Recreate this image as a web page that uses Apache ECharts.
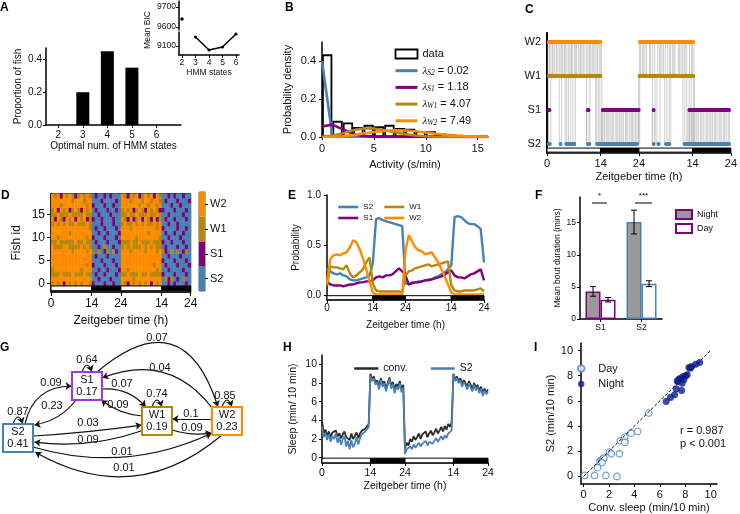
<!DOCTYPE html>
<html>
<head>
<meta charset="utf-8">
<script src="https://cdn.jsdelivr.net/npm/echarts@6/dist/echarts.min.js"></script>
<style>
  html, body { margin: 0; padding: 0; background: #fff; }
  #main { width: 740px; height: 514px; }
</style>
</head>
<body>
<div id="main"></div>
<script>
// ---- shared ----
var stateNames = ['S2', 'S1', 'W1', 'W2'];
var stateColors = ['#4682b4', '#800080', '#b8860b', '#ff8c00'];
var ztTicks = [0, 14, 24, 38, 48];
var lightDark = [[0, 14, 0], [14, 24, 1], [24, 38, 0], [38, 48, 1]];

// ---- A ----
var aStates = [2, 3, 4, 5, 6];
var aProportion = [0, 0.2, 0.45, 0.35, 0];
var aBicStates = [2, 3, 4, 5, 6];
var aMeanBic = [9640, 9160, 9073, 9093, 9180];

// ---- B ----
var bBinCentres = [0.5, 1.5, 2.5, 3.5, 4.5, 5.5, 6.5, 7.5, 8.5, 9.5, 10.5, 11.5, 12.5, 13.5, 14.5, 15.5];
var bDensity = [0.435, 0.085, 0.076, 0.053, 0.064, 0.056, 0.064, 0.048, 0.044, 0.031, 0.03, 0.018, 0.013, 0.008, 0.005, 0.003];
var bActivity = [0, 1, 2, 3, 4, 5, 6, 7, 8, 9, 10, 11, 12, 13, 14, 15, 16];
var bS2 = [0.40, 0.005, 0, 0, 0, 0, 0, 0, 0, 0, 0, 0, 0, 0, 0, 0, 0];
var bS1 = [0.055, 0.065, 0.04, 0.016, 0.005, 0.001, 0, 0, 0, 0, 0, 0, 0, 0, 0, 0, 0];
var bW1 = [0.001, 0.007, 0.02, 0.036, 0.045, 0.045, 0.036, 0.025, 0.015, 0.008, 0.004, 0.001, 0, 0, 0, 0, 0];
var bW2 = [0, 0.001, 0.004, 0.01, 0.018, 0.026, 0.032, 0.035, 0.034, 0.03, 0.024, 0.017, 0.011, 0.007, 0.004, 0.002, 0.001];
var bLambda = ['0.02', '1.18', '4.07', '7.49'];

// ---- C: one fish, state occupancy intervals (h) and switch times ----
var cS2 = [[0, 1.2], [3.1, 4.0], [4.6, 7.6], [10.2, 11.5], [12.6, 24], [27.4, 28.3], [28.6, 29.6], [30.6, 32.4], [35.4, 48]];
var cS1 = [[0, 1.1], [10.2, 11.3], [14.1, 24.4], [27.4, 28.3], [36.7, 48]];
var cW1 = [[0, 14.4], [23.7, 38.6]];
var cW2 = [[0, 14.4], [23.8, 38.6]];
var cSwitchWW = [0.2, 0.6, 0.8, 1.3, 1.5, 1.9, 2.4, 2.6, 3.1, 3.4, 3.8, 4.1, 4.5, 4.7, 5.0, 5.5, 5.8, 6.2, 6.4, 6.7, 7.2, 7.5, 7.7, 8.2, 8.6, 8.8, 9.1, 9.5, 9.9, 10.4, 10.7, 11.1, 11.4, 11.8, 12.1, 12.5, 12.8, 13.2, 13.6, 13.9, 14.2,
  24.1, 24.4, 24.9, 25.2, 25.6, 26.0, 26.8, 27.0, 27.6, 28.1, 28.9, 29.3, 29.6, 30.0, 30.4, 30.9, 31.5, 32.0, 32.3, 32.8, 33.1, 33.4, 34.3, 34.6, 35.0, 35.4, 35.8, 36.1, 36.5, 37.2, 37.7, 38.0, 38.4];
var cSwitchWS = [0.3, 1.0, 3.2, 3.8, 4.7, 5.1, 5.6, 6.2, 6.8, 7.4, 10.3, 11.2, 12.7, 13.0, 13.4, 13.8, 14.3,
  23.9, 24.2, 27.5, 28.2, 28.7, 29.5, 30.7, 31.3, 31.9, 32.3, 35.5, 36.0, 36.5, 37.1, 37.6, 38.2, 38.5];
var cSwitchSS = [0.4, 10.4, 11.0, 14.2, 14.5, 14.9, 15.1, 15.6, 15.9, 16.2, 16.7, 17.0, 17.3, 17.8, 18.2, 18.5, 18.9, 19.3, 19.6, 20.0, 20.5, 20.8, 21.1, 21.6, 22.0, 22.3, 22.7, 23.1, 23.5, 23.9,
  27.5, 28.1, 36.8, 37.2, 37.7, 38.0, 38.4, 38.9, 39.2, 39.6, 40.1, 40.4, 40.8, 41.3, 41.7, 42.0, 42.5, 42.8, 43.2, 43.7, 44.0, 44.4, 44.9, 45.2, 45.6, 46.1, 46.4, 46.8, 47.3, 47.6];

// ---- D: hourly state per fish (0=S2 1=S1 2=W1 3=W2), fish 0 first ----
var dFishStates = [
  '23231323232332|1000100100|32132323231323|0010100010',
  '33333333333333|0010001000|33332333333333|0212010200',
  '22232223222322|0100100010|22322232232222|1000100010',
  '23333333332333|0010010001|33233333333323|0010000100',
  '33333333333323|1000100010|33333333333233|0100010001',
  '33333333333333|0001000100|33333333333333|1000100010',
  '33333333333333|0100010000|33333333333333|0010001000',
  '33333332333323|2020120210|33323333233323|2102020120',
  '32223322223232|0010200100|23232223232322|0100010010',
  '22322222322322|0100010001|22232232223222|1001000100',
  '33233333333323|1000100010|33333233333332|0010001000',
  '33333323333333|0010010001|33333333323333|0100100100',
  '33333333333332|0100100010|33323333333323|1000010010',
  '23232322322232|0001000100|23223232322323|0010010000',
  '31321323132312|1001000100|32131231321312|0100100010',
  '22322232222322|0010001000|22322322232232|0010000100',
  '23132312321323|0100010010|23231232132321|1000100010',
  '33323333333323|1000100100|33333323323323|0001001000',
  '33333332333233|0001000010|33323332332332|0100010001',
  '32313232123232|0100101000|32132312323132|0010100100'
];

// ---- E: hourly state probabilities, ZT 0..48 ----
var eS2 = [0.27, 0.24, 0.22, 0.21, 0.22, 0.20, 0.19, 0.16, 0.15, 0.15, 0.16, 0.17, 0.18, 0.20,
  0.32, 0.76, 0.77, 0.75, 0.74, 0.73, 0.72, 0.71, 0.70, 0.69,
  0.12, 0.11, 0.13, 0.13, 0.14, 0.14, 0.15, 0.16, 0.16, 0.18, 0.19, 0.21, 0.23, 0.26,
  0.30, 0.78, 0.79, 0.78, 0.75, 0.72, 0.71, 0.71, 0.69, 0.66, 0.33];
var eS1 = [0.14, 0.11, 0.10, 0.10, 0.10, 0.09, 0.10, 0.11, 0.11, 0.12, 0.13, 0.13, 0.14, 0.14,
  0.15, 0.18, 0.19, 0.18, 0.20, 0.20, 0.21, 0.24, 0.27, 0.24,
  0.20, 0.11, 0.12, 0.13, 0.13, 0.14, 0.15, 0.15, 0.16, 0.17, 0.18, 0.19, 0.21, 0.23,
  0.25, 0.20, 0.18, 0.18, 0.17, 0.19, 0.21, 0.22, 0.24, 0.26, 0.15];
var eW1 = [0.10, 0.29, 0.28, 0.28, 0.27, 0.26, 0.30, 0.22, 0.18, 0.20, 0.23, 0.26, 0.33, 0.38,
  0.12, 0.05, 0.04, 0.04, 0.04, 0.04, 0.04, 0.04, 0.04, 0.03,
  0.20, 0.24, 0.25, 0.27, 0.28, 0.29, 0.30, 0.31, 0.29, 0.30, 0.31, 0.32, 0.33, 0.34,
  0.10, 0.05, 0.04, 0.04, 0.05, 0.05, 0.05, 0.05, 0.06, 0.07, 0.04];
var eW2 = [0.12, 0.36, 0.40, 0.41, 0.40, 0.42, 0.43, 0.48, 0.55, 0.53, 0.46, 0.37, 0.26, 0.14,
  0.03, 0.01, 0.01, 0.01, 0.01, 0.01, 0.01, 0.01, 0.01, 0.01,
  0.45, 0.60, 0.54, 0.48, 0.45, 0.44, 0.41, 0.42, 0.43, 0.38, 0.33, 0.26, 0.19, 0.11,
  0.03, 0.01, 0.01, 0.01, 0.01, 0.01, 0.01, 0.01, 0.01, 0.01, 0.01];

// ---- F ----
var fCats = ['S1', 'S2'];
var fNight = [4.3, 15.1];
var fNightErr = [0.75, 1.85];
var fDay = [3.0, 5.5];
var fDayErr = [0.35, 0.45];

// ---- G: transition probabilities ----
var gStates = ['S2', 'S1', 'W1', 'W2'];
var gOccupancy = [0.41, 0.17, 0.19, 0.23];
var gFrom = ['S2', 'S1', 'W1', 'W2', 'S2', 'S1', 'S1', 'W1', 'S1', 'W2', 'W2', 'W1', 'S2', 'W1', 'S2', 'W2'];
var gTo   = ['S2', 'S1', 'W1', 'W2', 'S1', 'S2', 'W1', 'S1', 'W2', 'S1', 'W1', 'W2', 'W1', 'S2', 'W2', 'S2'];
var gProb = ['0.87', '0.64', '0.74', '0.85', '0.09', '0.23', '0.07', '0.09', '0.07', '0.04', '0.1', '0.09', '0.03', '0.09', '0.01', '0.01'];

// ---- H: sleep per 10 min, ZT 0..48 every 0.5 h ----
var hConv = [4.0, 2.6, 3.0, 2.4, 2.8, 2.2, 2.7, 2.5, 2.9, 2.3, 2.6, 2.1, 2.5, 2.8, 2.2, 2.4, 1.9, 2.6, 2.0, 2.3, 2.7, 2.1, 2.6, 2.9, 2.7, 3.1, 3.3, 3.6,
  9.0, 8.4, 8.7, 8.0, 8.3, 7.6, 8.5, 7.9, 8.2, 7.4, 8.0, 8.6, 7.7, 8.1, 7.3, 7.9, 7.6, 8.2, 7.3, 7.8,
  1.0, 1.6, 1.3, 2.0, 1.7, 2.3, 1.9, 2.2, 2.6, 2.0, 2.5, 2.3, 2.8, 2.2, 2.6, 2.9, 2.4, 2.7, 3.1, 2.6, 2.9, 3.3, 2.8, 3.4, 3.0, 3.6, 3.3, 3.8,
  9.0, 8.4, 8.7, 8.2, 8.5, 7.9, 8.3, 8.0, 7.6, 8.2, 7.8, 7.4, 8.0, 7.5, 7.8, 7.2, 7.6, 6.9, 7.4, 7.0, 7.3];
var hS2 = [3.3, 2.2, 2.6, 1.9, 2.5, 1.7, 2.3, 2.0, 2.6, 1.6, 2.2, 1.4, 2.0, 2.3, 1.2, 1.8, 0.9, 1.9, 1.1, 1.5, 2.2, 1.4, 2.1, 2.5, 2.3, 2.8, 3.0, 3.3,
  8.8, 8.2, 8.5, 7.8, 8.1, 7.3, 8.3, 7.6, 8.0, 7.1, 7.8, 8.4, 7.4, 7.9, 6.9, 7.6, 7.3, 8.0, 7.0, 7.5,
  0.4, 0.9, 0.7, 1.2, 0.9, 1.4, 1.1, 1.3, 1.6, 1.2, 1.5, 1.4, 1.8, 1.3, 1.7, 1.9, 1.5, 1.8, 2.1, 1.7, 2.0, 2.3, 1.9, 2.4, 2.1, 2.6, 2.4, 2.9,
  8.9, 8.2, 8.5, 8.0, 8.3, 7.6, 8.1, 7.8, 7.3, 8.0, 7.5, 7.1, 7.8, 7.2, 7.6, 6.9, 7.4, 6.6, 7.2, 6.8, 7.1];

// ---- I: conv. sleep vs S2 ----
var iDay = [[0.08, 0.08], [0.87, 0.08], [1.76, 0.08], [2.63, 0], [1.1, 0.7], [1.3, 1.2], [1.4, 1.27], [1.53, 1.4], [1.6, 1.46], [1.45, 1.1],
  [2.03, 1.93], [2.18, 1.8], [2.82, 1.8], [2.9, 2.83], [3.24, 2.83], [3.24, 3.12], [3.24, 2.7], [3.74, 3.44], [4.26, 3.57], [5.13, 5.03]];
var iNight = [[6.5, 5.95], [6.84, 6.27], [7.16, 6.48], [7.29, 6.96], [7.37, 7.59], [7.45, 7.55], [7.5, 7.72], [7.63, 7.8], [7.71, 6.83], [7.76, 7.41],
  [7.84, 7.94], [7.9, 7.7], [8.03, 7.99], [8.16, 8.07], [8.29, 8.65], [8.4, 8.6], [8.5, 8.73], [8.82, 8.92], [9.13, 9.05]];

// ---------------------------------------------------------------
function clean(o) {
  for (var k in o) {
    if (o[k] === undefined) delete o[k];
    else if (o[k] && typeof o[k] === 'object' && !Array.isArray(o[k])) clean(o[k]);
  }
  return o;
}
function ztLabel(v) { return String(v > 24 ? v - 24 : v); }
function fix1(v) { return v.toFixed(1); }
function plain(v) { return String(v); }

function mkAxis(gi, min, max, o) {
  o = o || {};
  return clean({
    type: o.type || 'value', gridIndex: gi, min: min, max: max,
    show: o.show, position: o.position, data: o.data,
    name: o.name, nameLocation: 'middle', nameGap: o.nameGap,
    nameTextStyle: { fontSize: o.nameSize || o.fontSize || 10, color: '#111' },
    splitLine: { show: false },
    axisLine: { show: o.line !== false, onZero: false, lineStyle: { color: '#000', width: o.lw || 1.5 } },
    axisTick: { show: o.tick !== false, length: o.tickLen || 3, alignWithLabel: o.type === 'category' ? true : undefined,
      customValues: o.ticks, lineStyle: { color: '#000', width: 1 } },
    axisLabel: { fontSize: o.fontSize || 10, color: '#111', margin: o.margin || 5, customValues: o.ticks, formatter: o.fmt }
  });
}

function dayNight(gi, y0, y1) {
  return {
    type: 'custom', xAxisIndex: gi, yAxisIndex: gi, silent: true, z: 4,
    data: lightDark,
    renderItem: function (params, api) {
      var a = api.coord([api.value(0), y0]);
      var b = api.coord([api.value(1), y1]);
      return { type: 'rect',
        shape: { x: a[0], y: Math.min(a[1], b[1]), width: b[0] - a[0], height: Math.abs(b[1] - a[1]) },
        style: { fill: api.value(2) ? '#000' : '#fff', stroke: '#000', lineWidth: 1 } };
    }
  };
}

function pairs(xs, ys) { return xs.map(function (x, i) { return [x, ys[i]]; }); }

var eTime = [];
for (var k = 0; k <= 48; k++) eTime.push(k);
var hTime = [];
for (var k2 = 0; k2 <= 96; k2++) hTime.push(k2 / 2);

// C data rows
var cTransitions = cSwitchWW.map(function (t) { return [t, 2, 3]; })
  .concat(cSwitchWS.map(function (t) { return [t, 0, 2]; }))
  .concat(cSwitchSS.map(function (t) { return [t, 0, 1]; }));
var cIntervals = [];
[cS2, cS1, cW1, cW2].forEach(function (list, s) {
  list.forEach(function (iv) { cIntervals.push([iv[0], iv[1], s]); });
});

// D data rows
var dCells = [];
dFishStates.forEach(function (row, fish) {
  var r = row.replace(/\|/g, '');
  for (var h = 0; h < r.length; h++) dCells.push([h, fish, +r[h]]);
});

// A inset split (broken axis)
var aBicTop = [], aBicBottom = [];
aBicStates.forEach(function (s, i) {
  if (aMeanBic[i] > 9400) aBicTop.push([s, aMeanBic[i]]); else aBicBottom.push([s, aMeanBic[i]]);
});

// ---- G layout (pixel space) ----
var gBoxXY = { S2: [18, 438], S1: [87, 386], W1: [157, 421], W2: [227, 421] };
var gBoxColor = { S2: '#4682b4', S1: '#a335e8', W1: '#b8860b', W2: '#ff8c00' };
// [x1, y1, x2, y2, curveness, labelX, labelY]
var gEdgeGeom = [
  [13, 424, 23, 424, 1.4, 18, 412],
  [82, 372, 92, 372, 1.4, 87, 360],
  [152, 407, 162, 407, 1.4, 157, 394],
  [222, 407, 232, 407, 1.4, 225, 396],
  [25, 424, 72, 386, 0.4, 51, 383],
  [76, 400, 34, 425, 0.2, 52, 406],
  [102, 389, 146, 407, 0.25, 122, 384],
  [142, 416, 101, 400, 0.15, 118, 405],
  [97, 372, 218, 407, 0.75, 157, 338],
  [213, 409, 102, 378, -0.38, 160, 368],
  [212, 419, 172, 419, 0, 191, 414],
  [172, 430, 212, 433, -0.12, 192, 428],
  [33, 436, 142, 425, -0.02, 88, 423],
  [141, 431, 34, 442, 0.12, 88, 440],
  [33, 447, 212, 433, -0.19, 122, 452],
  [222, 435, 35, 452, 0.35, 124, 468]
];
var gNodes = [], gLinks = [];
gStates.forEach(function (s, i) {
  gNodes.push({ name: s, x: gBoxXY[s][0], y: gBoxXY[s][1], symbol: 'rect', symbolSize: [30, 28],
    itemStyle: { color: '#fff', borderColor: gBoxColor[s], borderWidth: 2 },
    label: { show: true, position: 'inside', formatter: s + '\n' + gOccupancy[i].toFixed(2), fontSize: 11, lineHeight: 12, color: '#111' } });
});
gProb.forEach(function (p, e) {
  var g = gEdgeGeom[e];
  var hidden = { color: 'rgba(0,0,0,0)', borderWidth: 0 };
  gNodes.push({ name: 'e' + e + 's', x: g[0], y: g[1], symbolSize: 1, itemStyle: hidden, label: { show: false } });
  gNodes.push({ name: 'e' + e + 't', x: g[2], y: g[3], symbolSize: 1, itemStyle: hidden, label: { show: false } });
  gNodes.push({ name: 'l' + e, x: g[5], y: g[6], symbolSize: 1, itemStyle: hidden,
    label: { show: true, position: 'inside', formatter: p, fontSize: 11, color: '#111' } });
  gLinks.push({ source: 'e' + e + 's', target: 'e' + e + 't', lineStyle: { curveness: g[4] } });
});
var gx = gNodes.map(function (n) { return n.x; }), gy = gNodes.map(function (n) { return n.y; });
var gMinX = Math.min.apply(null, gx), gMaxX = Math.max.apply(null, gx);
var gMinY = Math.min.apply(null, gy), gMaxY = Math.max.apply(null, gy);

// ---------------------------------------------------------------
var chart = echarts.init(document.getElementById('main'));

var noSymbol = { color: 'rgba(0,0,0,0)', opacity: 0, borderWidth: 0 };

var option = {
  animation: false,
  backgroundColor: '#fff',
  textStyle: { fontFamily: 'Liberation Sans' },
  grid: [
    { left: 46, top: 48, width: 135, height: 77 },
    { left: 179, top: 1, width: 60, height: 29 },
    { left: 179, top: 32, width: 60, height: 23 },
    { left: 322, top: 42, width: 166, height: 95 },
    { left: 547, top: 33, width: 186, height: 120 },
    { left: 51, top: 193.6, width: 139.7, height: 98.4, show: true, borderColor: '#222', borderWidth: 1, backgroundColor: 'rgba(0,0,0,0)' },
    { left: 199, top: 192, width: 6, height: 99, show: true, borderColor: '#333', borderWidth: 0.8, backgroundColor: 'rgba(0,0,0,0)' },
    { left: 327, top: 195, width: 157, height: 105 },
    { left: 580, top: 197, width: 82, height: 122 },
    { left: 322, top: 355, width: 166, height: 108 },
    { left: 581, top: 343, width: 136, height: 141 }
  ],
  xAxis: [
    mkAxis(0, 1.5, 7, { ticks: [2, 3, 4, 5, 6], name: 'Optimal num. of HMM states', nameGap: 16, margin: 5 }),
    mkAxis(1, 1.78, 6.22, { show: false }),
    mkAxis(2, 1.78, 6.22, { ticks: [2, 3, 4, 5, 6], name: 'HMM states', nameGap: 11, fontSize: 8.5, margin: 3 }),
    mkAxis(3, 0, 16, { ticks: [0, 5, 10, 15], name: 'Activity (s/min)', nameGap: 22, fontSize: 11, margin: 6 }),
    mkAxis(4, 0, 48, { ticks: ztTicks, fmt: ztLabel, name: 'Zeitgeber time (h)', nameGap: 18, fontSize: 11, margin: 5 }),
    mkAxis(5, 0, 48, { ticks: ztTicks, fmt: ztLabel, name: 'Zeitgeber time (h)', nameGap: 23, fontSize: 12, margin: 6, tickLen: 4 }),
    mkAxis(6, 0, 1, { show: false }),
    mkAxis(7, 0, 48, { ticks: ztTicks, fmt: ztLabel, name: 'Zeitgeber time (h)', nameGap: 20, fontSize: 10, margin: 3 }),
    mkAxis(8, null, null, { type: 'category', data: fCats, fontSize: 8.5, margin: 4 }),
    mkAxis(9, 0, 48, { ticks: ztTicks, fmt: ztLabel, name: 'Zeitgeber time (h)', nameGap: 18, fontSize: 10.5, margin: 5 }),
    mkAxis(10, -0.2, 10.5, { ticks: [0, 2, 4, 6, 8, 10], name: 'Conv. sleep (min/10 min)', nameGap: 18, fontSize: 11, margin: 5 })
  ],
  yAxis: [
    mkAxis(0, 0, 0.47, { ticks: [0, 0.2, 0.4], fmt: fix1, name: 'Proportion of fish', nameGap: 23, margin: 4 }),
    mkAxis(1, 9585, 9730, { ticks: [9600, 9700], fmt: plain, fontSize: 8.5, margin: 3 }),
    mkAxis(2, 9040, 9193, { ticks: [9100], fmt: plain, fontSize: 8.5, margin: 3 }),
    mkAxis(3, 0, 0.5, { ticks: [0, 0.2, 0.4], fmt: fix1, name: 'Probability density', nameGap: 29, fontSize: 11, margin: 6 }),
    mkAxis(4, -0.265, 3.265, { ticks: [0, 1, 2, 3], fmt: function (v) { return stateNames[v]; }, fontSize: 11, margin: 6, tick: false, lw: 2 }),
    mkAxis(5, -1.9, 19.5, { ticks: [0, 5, 10, 15], name: 'Fish id', nameGap: 28, fontSize: 12, margin: 6, tickLen: 4 }),
    mkAxis(6, null, null, { type: 'category', data: stateNames, position: 'right', fontSize: 11, margin: 5, line: false }),
    mkAxis(7, -0.045, 1.0, { ticks: [0, 0.5, 1], fmt: fix1, name: 'Probability', nameGap: 26, fontSize: 10, margin: 6 }),
    mkAxis(8, 0, 19, { ticks: [0, 5, 10, 15], name: 'Mean bout duration (mins)', nameGap: 17, fontSize: 8.5, margin: 4 }),
    mkAxis(9, -0.57, 11, { ticks: [0, 2, 4, 6, 8, 10], name: 'Sleep (min/ 10 min)', nameGap: 23, fontSize: 10.5, margin: 5 }),
    mkAxis(10, -0.6, 10.6, { ticks: [0, 2, 4, 6, 8, 10], name: 'S2 (min/10 min)', nameGap: 25, fontSize: 11, margin: 8 })
  ],
  legend: [
    { // B
      data: [{ name: 'data', icon: 'rect', itemStyle: { color: '#fff', opacity: 1, borderColor: '#000', borderWidth: 1.8 } }, 'bS2', 'bS1', 'bW1', 'bW2'],
      left: 389, top: 43, orient: 'vertical', itemWidth: 22, itemHeight: 9, itemGap: 4.7, selectedMode: false,
      itemStyle: noSymbol, lineStyle: { width: 3 },
      textStyle: { fontSize: 11, color: '#111', lineHeight: 12,
        rich: { l: { fontSize: 11, fontStyle: 'italic', fontFamily: 'Liberation Serif', lineHeight: 12, verticalAlign: 'middle' },
                s: { fontSize: 7.5, fontStyle: 'italic', fontFamily: 'Liberation Serif', lineHeight: 12, verticalAlign: 'bottom' },
                t: { fontSize: 11, lineHeight: 12, verticalAlign: 'middle' } } },
      formatter: function (n) {
        var idx = ['bS2', 'bS1', 'bW1', 'bW2'].indexOf(n);
        if (idx < 0) return n;
        return '{l|λ}{s|' + stateNames[idx] + '}{t| = ' + bLambda[idx] + '}';
      }
    },
    { data: ['S2', 'S1'], left: 332, top: 198, orient: 'vertical', itemWidth: 20, itemHeight: 8, itemGap: 3, selectedMode: false,
      itemStyle: noSymbol, lineStyle: { width: 2.6 }, textStyle: { fontSize: 8, color: '#111' } },
    { data: ['W1', 'W2'], left: 378, top: 198, orient: 'vertical', itemWidth: 20, itemHeight: 8, itemGap: 3, selectedMode: false,
      itemStyle: noSymbol, lineStyle: { width: 2.6 }, textStyle: { fontSize: 8, color: '#111' } },
    { data: [{ name: 'Night', icon: 'rect' }, { name: 'Day', icon: 'rect' }], left: 670, top: 204, orient: 'vertical',
      itemWidth: 16, itemHeight: 9, itemGap: 3, selectedMode: false, textStyle: { fontSize: 9, color: '#111' } },
    { data: ['hConv', 'hS2'], left: 348, top: 358, orient: 'horizontal', itemWidth: 24, itemHeight: 8, itemGap: 22, selectedMode: false,
      itemStyle: noSymbol, lineStyle: { width: 2.5 }, textStyle: { fontSize: 10.5, color: '#111' },
      formatter: function (n) { return n === 'hConv' ? 'conv.' : 'S2'; } },
    { data: [{ name: 'iDay', icon: 'circle' }, { name: 'iNight', icon: 'circle' }], left: 572, top: 358, orient: 'vertical',
      itemWidth: 24, itemHeight: 6.5, itemGap: 4.5, selectedMode: false, textStyle: { fontSize: 11, color: '#111' },
      formatter: function (n) { return n === 'iDay' ? 'Day' : 'Night'; } }
  ],
  series: [
    // A
    { type: 'bar', xAxisIndex: 0, yAxisIndex: 0, barWidth: 13, itemStyle: { color: '#000' }, data: pairs(aStates, aProportion) },
    { type: 'line', xAxisIndex: 1, yAxisIndex: 1, data: aBicTop, symbol: 'circle', symbolSize: 3.5, itemStyle: { color: '#000' }, lineStyle: { color: '#000' } },
    { type: 'line', xAxisIndex: 2, yAxisIndex: 2, data: aBicBottom, symbol: 'circle', symbolSize: 3, itemStyle: { color: '#000' }, lineStyle: { color: '#000', width: 1.5 } },
    // B
    { type: 'bar', name: 'data', xAxisIndex: 3, yAxisIndex: 3, barWidth: 10.3,
      itemStyle: { color: 'rgba(0,0,0,0)', borderColor: '#000', borderWidth: 1.8 }, data: pairs(bBinCentres, bDensity) },
    { type: 'line', name: 'bS2', xAxisIndex: 3, yAxisIndex: 3, symbol: 'none', color: stateColors[0], lineStyle: { width: 2.6 }, data: pairs(bActivity, bS2) },
    { type: 'line', name: 'bS1', xAxisIndex: 3, yAxisIndex: 3, symbol: 'none', color: stateColors[1], lineStyle: { width: 2.6 }, data: pairs(bActivity, bS1) },
    { type: 'line', name: 'bW1', xAxisIndex: 3, yAxisIndex: 3, symbol: 'none', color: stateColors[2], lineStyle: { width: 2.6 }, data: pairs(bActivity, bW1) },
    { type: 'line', name: 'bW2', xAxisIndex: 3, yAxisIndex: 3, symbol: 'none', color: stateColors[3], lineStyle: { width: 2.6 }, data: pairs(bActivity, bW2) },
    // C
    { type: 'custom', xAxisIndex: 4, yAxisIndex: 4, silent: true, data: cTransitions,
      renderItem: function (params, api) {
        var a = api.coord([api.value(0), api.value(1)]), b = api.coord([api.value(0), api.value(2)]);
        return { type: 'line', shape: { x1: a[0], y1: a[1], x2: b[0], y2: b[1] }, style: { stroke: 'rgba(160,160,160,0.5)', lineWidth: 1 } };
      } },
    { type: 'custom', xAxisIndex: 4, yAxisIndex: 4, silent: true, data: cIntervals, z: 3,
      renderItem: function (params, api) {
        var a = api.coord([api.value(0), api.value(2)]), b = api.coord([api.value(1), api.value(2)]);
        return { type: 'rect', shape: { x: a[0], y: a[1] - 2, width: b[0] - a[0], height: 4, r: 1.5 }, style: { fill: stateColors[api.value(2)] } };
      } },
    dayNight(4, -0.12, -0.24),
    // D
    { type: 'custom', xAxisIndex: 5, yAxisIndex: 5, silent: true, data: dCells,
      renderItem: function (params, api) {
        var a = api.coord([api.value(0), api.value(1) + 0.5]), b = api.coord([api.value(0) + 1, api.value(1) - 0.5]);
        return { type: 'rect', shape: { x: a[0], y: a[1], width: b[0] - a[0] + 0.4, height: b[1] - a[1] + 0.4 }, style: { fill: stateColors[api.value(2)] } };
      } },
    dayNight(5, -0.59, -1.61),
    { type: 'bar', xAxisIndex: 6, yAxisIndex: 6, barCategoryGap: '0%', silent: true,
      data: stateNames.map(function (s, i) { return { value: 1, itemStyle: { color: stateColors[i] } }; }) },
    // E
    { type: 'line', name: 'S2', xAxisIndex: 7, yAxisIndex: 7, symbol: 'none', color: stateColors[0], lineStyle: { width: 2.4 }, data: pairs(eTime, eS2) },
    { type: 'line', name: 'S1', xAxisIndex: 7, yAxisIndex: 7, symbol: 'none', color: stateColors[1], lineStyle: { width: 2.4 }, data: pairs(eTime, eS1) },
    { type: 'line', name: 'W1', xAxisIndex: 7, yAxisIndex: 7, symbol: 'none', color: stateColors[2], lineStyle: { width: 2.4 }, data: pairs(eTime, eW1) },
    { type: 'line', name: 'W2', xAxisIndex: 7, yAxisIndex: 7, symbol: 'none', color: stateColors[3], lineStyle: { width: 2.4 }, data: pairs(eTime, eW2) },
    dayNight(7, -0.002, -0.042),
    // F
    { type: 'bar', name: 'Night', xAxisIndex: 8, yAxisIndex: 8, barWidth: 15, barGap: '0%',
      itemStyle: { color: '#999', borderColor: stateColors[1], borderWidth: 1.5 },
      data: fNight.map(function (v, i) { return { value: v, itemStyle: { borderColor: i ? stateColors[0] : stateColors[1] } }; }) },
    { type: 'bar', name: 'Day', xAxisIndex: 8, yAxisIndex: 8, barWidth: 15, barGap: '0%',
      itemStyle: { color: '#fff', borderColor: stateColors[1], borderWidth: 1.5 },
      data: fDay.map(function (v, i) { return { value: v, itemStyle: { borderColor: i ? stateColors[0] : stateColors[1] } }; }) },
    { type: 'custom', xAxisIndex: 8, yAxisIndex: 8, silent: true, z: 5,
      data: fNight.map(function (v, i) { return [i, v, fNightErr[i], -1]; }).concat(fDay.map(function (v, i) { return [i, v, fDayErr[i], 1]; })),
      renderItem: function (params, api) {
        var c = api.coord([api.value(0), api.value(1)]);
        var x = c[0] + api.value(3) * 7.5;
        var t = api.coord([api.value(0), api.value(1) + api.value(2)])[1];
        var b = api.coord([api.value(0), api.value(1) - api.value(2)])[1];
        var st = { stroke: '#000', lineWidth: 1 };
        return { type: 'group', children: [
          { type: 'line', shape: { x1: x, y1: t, x2: x, y2: b }, style: st },
          { type: 'line', shape: { x1: x - 3, y1: t, x2: x + 3, y2: t }, style: st },
          { type: 'line', shape: { x1: x - 3, y1: b, x2: x + 3, y2: b }, style: st }
        ] };
      } },
    // G
    { type: 'graph', layout: 'none', silent: true, roam: false,
      left: gMinX, top: gMinY, width: gMaxX - gMinX, height: gMaxY - gMinY,
      data: gNodes, links: gLinks,
      edgeSymbol: ['none', 'arrow'], edgeSymbolSize: [0, 6],
      lineStyle: { color: '#111', width: 1.2, opacity: 1 },
      emphasis: { disabled: true } },
    // H
    { type: 'line', name: 'hConv', xAxisIndex: 9, yAxisIndex: 9, symbol: 'none', color: '#2a2a2a', lineStyle: { width: 1.8 }, data: pairs(hTime, hConv) },
    { type: 'line', name: 'hS2', xAxisIndex: 9, yAxisIndex: 9, symbol: 'none', color: '#4a80b8', lineStyle: { width: 1.8 }, data: pairs(hTime, hS2) },
    dayNight(9, -0.05, -0.55),
    // I
    { type: 'line', xAxisIndex: 10, yAxisIndex: 10, symbol: 'none', silent: true, data: [[0, 0], [10, 10]],
      lineStyle: { color: '#000', width: 1, type: [3, 2] } },
    { type: 'scatter', name: 'iDay', xAxisIndex: 10, yAxisIndex: 10, symbol: 'circle', symbolSize: 6.5,
      itemStyle: { color: '#fff', borderColor: '#4a86c5', borderWidth: 1.2 }, data: iDay },
    { type: 'scatter', name: 'iNight', xAxisIndex: 10, yAxisIndex: 10, symbol: 'circle', symbolSize: 7,
      itemStyle: { color: '#0b1e8e' }, data: iNight }
  ],
  graphic: [
    { type: 'text', x: 0, y: 2, style: { text: 'A', fontSize: 12, fontWeight: 'bold', fill: '#000' } },
    { type: 'text', x: 285, y: 1.5, style: { text: 'B', fontSize: 12, fontWeight: 'bold', fill: '#000' } },
    { type: 'text', x: 525, y: 3.5, style: { text: 'C', fontSize: 12, fontWeight: 'bold', fill: '#000' } },
    { type: 'text', x: 1, y: 189.5, style: { text: 'D', fontSize: 12, fontWeight: 'bold', fill: '#000' } },
    { type: 'text', x: 288, y: 189.5, style: { text: 'E', fontSize: 12, fontWeight: 'bold', fill: '#000' } },
    { type: 'text', x: 535, y: 189.5, style: { text: 'F', fontSize: 12, fontWeight: 'bold', fill: '#000' } },
    { type: 'text', x: 0, y: 341.5, style: { text: 'G', fontSize: 12, fontWeight: 'bold', fill: '#000' } },
    { type: 'text', x: 283, y: 341.5, style: { text: 'H', fontSize: 12, fontWeight: 'bold', fill: '#000' } },
    { type: 'text', x: 534, y: 341.5, style: { text: 'I', fontSize: 12, fontWeight: 'bold', fill: '#000' } },
    { type: 'text', x: 148, y: 30, rotation: Math.PI / 2,
      style: { text: 'Mean BIC', fontSize: 8.5, fill: '#111', align: 'center', verticalAlign: 'middle' } },
    { type: 'line', shape: { x1: 592, y1: 203, x2: 607, y2: 203 }, style: { stroke: '#000', lineWidth: 1 } },
    { type: 'line', shape: { x1: 635, y1: 203, x2: 652, y2: 203 }, style: { stroke: '#000', lineWidth: 1 } },
    { type: 'text', x: 599.5, y: 196, style: { text: '*', fontSize: 8, fill: '#000', align: 'center', verticalAlign: 'middle' } },
    { type: 'text', x: 643.5, y: 196, style: { text: '***', fontSize: 8, fill: '#000', align: 'center', verticalAlign: 'middle' } },
    { type: 'text', x: 680, y: 431, style: { text: 'r = 0.987', fontSize: 11, fill: '#111', align: 'left', verticalAlign: 'middle' } },
    { type: 'text', x: 680, y: 444, style: { text: 'p < 0.001', fontSize: 11, fill: '#111', align: 'left', verticalAlign: 'middle' } }
  ]
};

chart.setOption(option);
</script>
</body>
</html>
